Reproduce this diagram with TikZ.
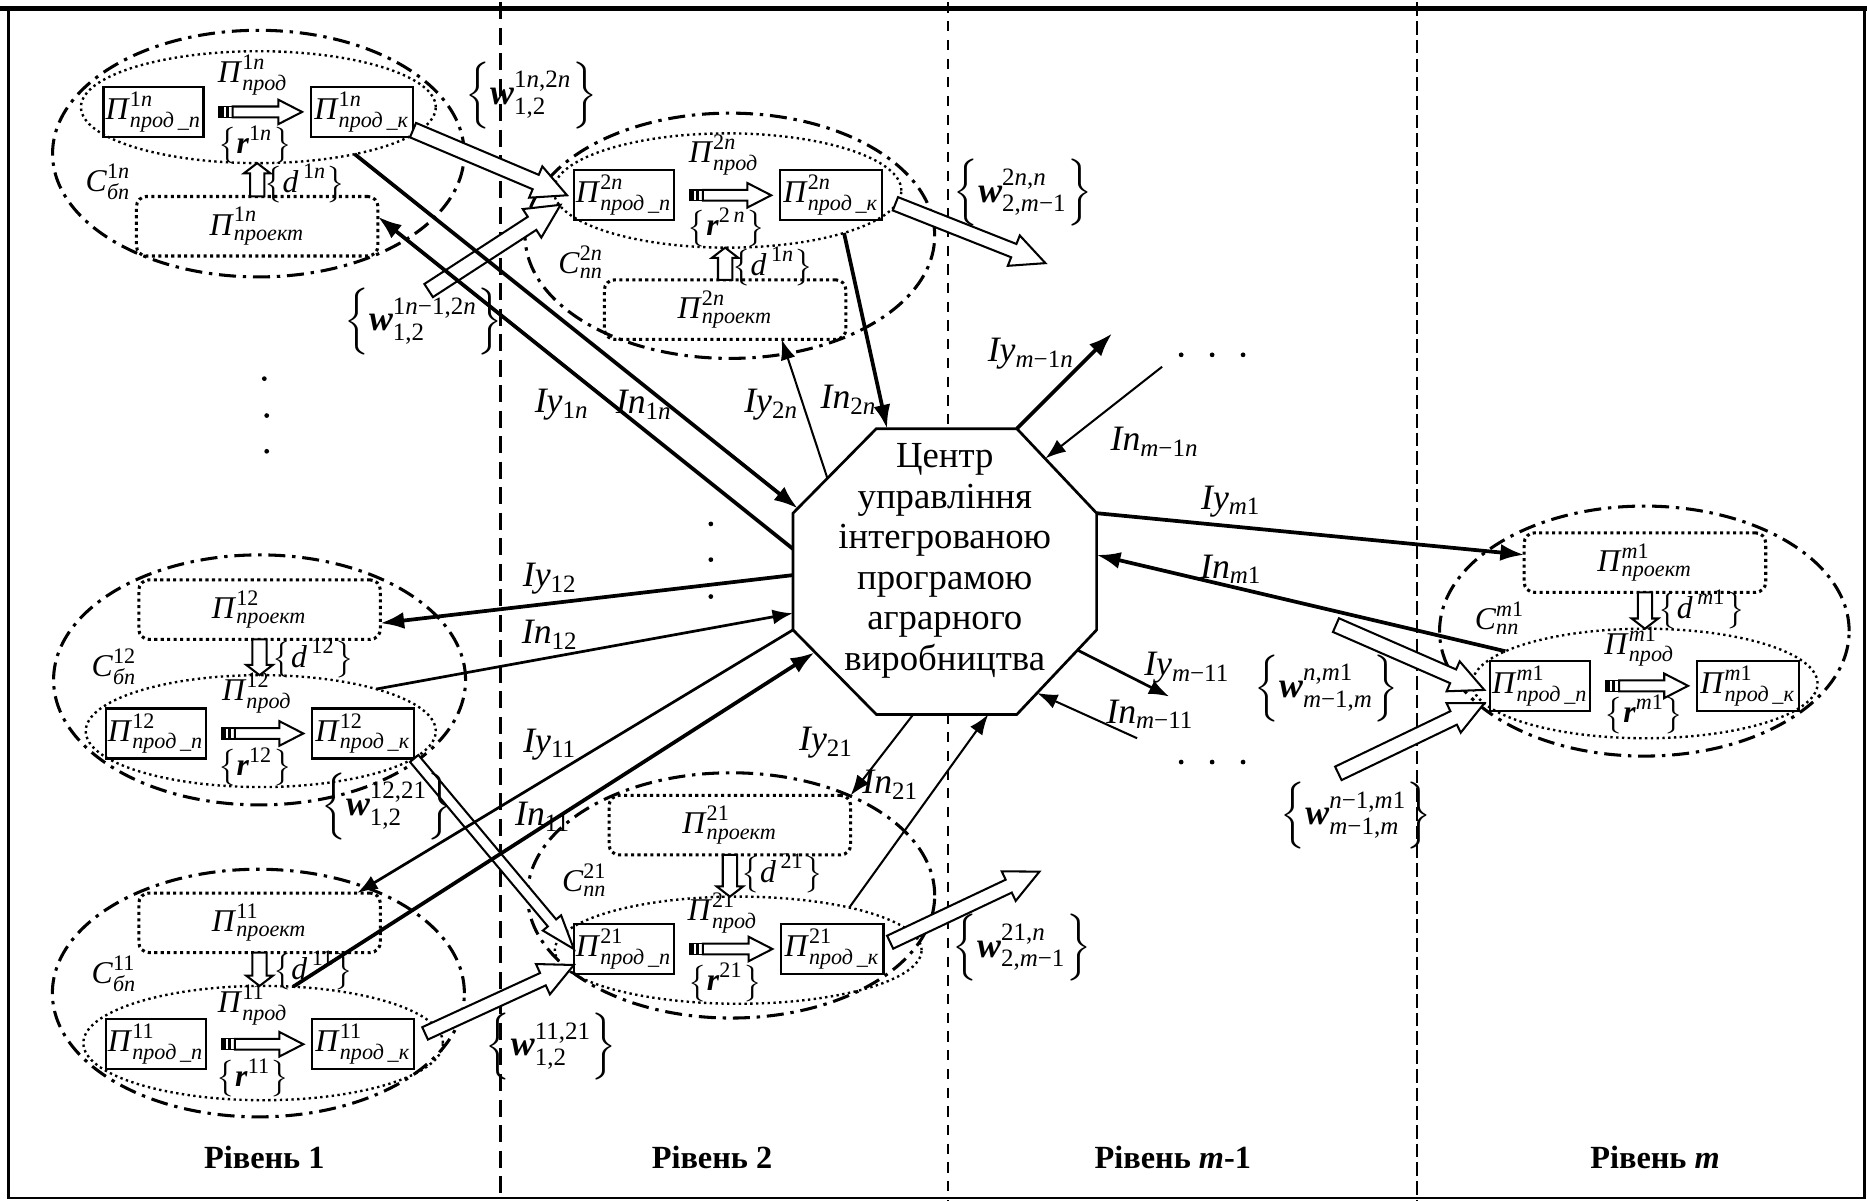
\documentclass[tikz,border=0pt]{standalone}
\usepackage{amsmath}
\usepackage{fontspec}
\setmainfont{Liberation Serif}
\usetikzlibrary{calc,arrows.meta,shapes.geometric}
\newcommand{\fsz}{\fontsize{10.5}{11.8}\selectfont}
\newcommand{\gsz}{\fontsize{9.3}{10.5}\selectfont}
\newcommand{\PV}[2]{\textit{П}$^{\text{#1}}_{\textit{#2}}$}
\newcommand{\CV}[2]{\textit{C}$^{\text{#1}}_{\textit{#2}}$}
\newcommand{\LBL}[2]{\textit{#1}$_{\text{#2}}$}
\newcommand{\BRw}[2]{$\Bigl\{\textbf{\textit{w}}^{\text{#1}}_{\text{#2}}\Bigr\}$}
\newcommand{\BRr}[1]{$\bigl\{\textbf{\textit{r}}^{\text{#1}}\bigr\}$}
\newcommand{\BRd}[1]{$\bigl\{\textit{d}^{\,\text{#1}}\bigr\}$}
\newcommand{\HArrow}[5]{%
  \path (#1) coordinate (hS) (#2) coordinate (hE);
  \path ($(hE)!#5!(hS)$) coordinate (hN);
  \draw[harrow] ($(hS)!#3!90:(hE)$) -- ($(hN)!#3!-90:(hS)$) -- ($(hN)!#4!-90:(hS)$) -- (hE) -- ($(hN)!#4!90:(hS)$) -- ($(hN)!#3!90:(hS)$) -- ($(hS)!#3!-90:(hE)$) -- cycle;
}
\newcommand{\PArrow}[2]{%
  \path ([xshift=4.5pt]#1.east) coordinate (pA) ([xshift=-2.6pt]#2.west) coordinate (pB);
  \HArrow{[xshift=4pt]pA}{pB}{1.6pt}{3.6pt}{7pt}
  \draw[line width=0.4pt] ([yshift=-1.6pt]pA) rectangle ([xshift=4pt,yshift=1.6pt]pA);
  \fill ([yshift=-1.6pt]pA) rectangle ([xshift=1.4pt,yshift=1.6pt]pA);
  \fill ([xshift=2pt,yshift=-1.6pt]pA) rectangle ([xshift=2.8pt,yshift=1.6pt]pA);
}
\begin{document}
\begin{tikzpicture}[x=0.35pt,y=-0.35pt,
  every node/.style={inner sep=0pt, outer sep=0pt, font=\fsz},
  gtxt/.style={font=\gsz},
  pbox/.style={draw, line width=0.7pt, minimum height=14.7pt, inner sep=0.6pt, font=\gsz},
  proj/.style={draw, densely dotted, line width=0.9pt, rounded corners=3pt, minimum width=71pt, minimum height=17.5pt, font=\gsz},
  iell/.style={draw, ellipse, densely dotted, line width=0.7pt},
  oell/.style={draw, ellipse, line width=0.9pt, dash pattern=on 5pt off 2pt on 1pt off 2pt},
  thk/.style={line width=1.1pt, -{Latex[length=7pt,width=5pt]}},
  thn/.style={line width=0.6pt, -{Latex[length=6pt,width=4.4pt]}},
  harrow/.style={fill=white, draw, line width=0.6pt, line join=miter},
  lev/.style={font=\fontsize{9.5}{11}\selectfont\bfseries},
]
\useasboundingbox (0,0) rectangle (1568,1008);
% level separators
\draw[line width=0.9pt, dash pattern=on 5pt off 2.5pt] (420,2) -- (420,1008);
\draw[line width=0.5pt, dash pattern=on 3pt off 2.5pt] (796,2) -- (796,1008);
\draw[line width=0.8pt, dash pattern=on 4pt off 1.5pt] (1190,2) -- (1190,1008);
% frame
\draw[line width=0.7pt] (7,7) -- (7,1006) -- (1566,1006) -- (1566,7);
\draw[line width=1.6pt] (0,7) -- (1568,7);

% ===== group 1n =====
\node[oell, minimum width=121pt, minimum height=72.5pt] (OE1n) at (217,129) {};
\node[iell, minimum width=104.3pt, minimum height=32.9pt] (IE1n) at (217,90) {};
\node[pbox, minimum width=28pt] (n1n) at (129,94) {\PV{1\textit{n}}{прод\,\_п}};
\node[pbox, minimum width=30pt] (k1n) at (304,94) {\PV{1\textit{n}}{прод\,\_к}};
\node[gtxt] (pr1n) at (212.5,63) {\PV{1\textit{n}}{прод}};
\node[gtxt] (r1n) at (214,122) {\BRr{1\textit{n}}};
\node[gtxt] (c1n) at (91,153) {\CV{1\textit{n}}{бп}};
\node[proj] (P1n) at (216,190) {\PV{1\textit{n}}{проект}};
\node[gtxt] (d1n) at (256,154) {\BRd{1\textit{n}}};
\PArrow{n1n}{k1n}
\HArrow{P1n.north}{P1n.north |- IE1n.south}{2.1pt}{3.9pt}{3pt}

% ===== group 2n =====
\node[oell, minimum width=120.4pt, minimum height=72.1pt] (OE2n) at (613,198) {};
\node[iell, minimum width=102.2pt, minimum height=33.6pt] (IE2n) at (611,160) {};
\node[pbox, minimum width=28pt] (n2n) at (524,164) {\PV{2\textit{n}}{прод\,\_п}};
\node[pbox, minimum width=30pt] (k2n) at (698,164) {\PV{2\textit{n}}{прод\,\_к}};
\node[gtxt] (pr2n) at (608,130) {\PV{2\textit{n}}{прод}};
\node[gtxt] (r2n) at (610,191) {\BRr{2\,\textit{n}}};
\node[gtxt] (c2n) at (488,220) {\CV{2\textit{n}}{пп}};
\node[proj] (P2n) at (609,260) {\PV{2\textit{n}}{проект}};
\node[gtxt] (d2n) at (649,224) {\BRd{1\textit{n}}};
\PArrow{n2n}{k2n}
\HArrow{P2n.north}{P2n.north |- IE2n.south}{2.1pt}{3.9pt}{3pt}

% ===== group 12 =====
\node[oell, minimum width=121.1pt, minimum height=73.5pt] (OE12) at (218,571) {};
\node[proj] (P12) at (218,512) {\PV{12}{проект}};
\node[gtxt] (d12) at (263,553) {\BRd{12}};
\node[gtxt] (c12) at (96,560) {\CV{12}{бп}};
\node[iell, minimum width=102.9pt, minimum height=32.9pt] (IE12) at (219,614) {};
\node[gtxt] (pr12) at (216,582) {\PV{12}{прод}};
\node[pbox, minimum width=28pt] (n12) at (131,616) {\PV{12}{прод\,\_п}};
\node[pbox, minimum width=30pt] (k12) at (305,616) {\PV{12}{прод\,\_к}};
\node[gtxt] (r12) at (214,644) {\BRr{12}};
\PArrow{n12}{k12}
\HArrow{P12.south}{P12.south |- IE12.north}{2.1pt}{3.9pt}{3pt}

% ===== group 11 =====
\node[oell, minimum width=121.1pt, minimum height=72.8pt] (OE11) at (217,834) {};
\node[proj] (P11) at (218,775) {\PV{11}{проект}};
\node[gtxt] (d11) at (263,815) {\BRd{11}};
\node[gtxt] (c11) at (96,818) {\CV{11}{бп}};
\node[iell, minimum width=105.7pt, minimum height=33.6pt] (IE11) at (221,876) {};
\node[gtxt] (pr11) at (212.5,844) {\PV{11}{прод}};
\node[pbox, minimum width=28pt] (n11) at (131,877) {\PV{11}{прод\,\_п}};
\node[pbox, minimum width=30pt] (k11) at (305,877) {\PV{11}{прод\,\_к}};
\node[gtxt] (r11) at (212.5,905) {\BRr{11}};
\PArrow{n11}{k11}
\HArrow{P11.south}{P11.south |- IE11.north}{2.1pt}{3.9pt}{3pt}

% ===== group 21 =====
\node[oell, minimum width=119.7pt, minimum height=72.1pt] (OE21) at (614,752) {};
\node[proj] (P21) at (613,693) {\PV{21}{проект}};
\node[gtxt] (d21) at (657,733.5) {\BRd{21}};
\node[gtxt] (c21) at (491,739) {\CV{21}{пп}};
\node[iell, minimum width=107.8pt, minimum height=31.5pt] (IE21) at (620,798) {};
\node[gtxt] (pr21) at (607,767) {\PV{21}{прод}};
\node[pbox, minimum width=28pt] (n21) at (524,797) {\PV{21}{прод\,\_п}};
\node[pbox, minimum width=30pt] (k21) at (699,797) {\PV{21}{прод\,\_к}};
\node[gtxt] (r21) at (609,825) {\BRr{21}};
\PArrow{n21}{k21}
\HArrow{P21.south}{P21.south |- IE21.north}{2.1pt}{3.9pt}{3pt}

% ===== group m1 =====
\node[oell, minimum width=120.4pt, minimum height=73.5pt] (OEm1) at (1381,530) {};
\node[proj] (Pm1) at (1381.5,472.5) {\PV{\textit{m}1}{проект}};
\node[gtxt] (dm1) at (1429,512) {\BRd{\textit{m}1}};
\node[gtxt] (cm1) at (1259.7,519) {\CV{\textit{m}1}{пп}};
\node[iell, minimum width=101.5pt, minimum height=32.2pt] (IEm1) at (1381.5,574) {};
\node[gtxt] (prm1) at (1377,543) {\PV{\textit{m}1}{прод}};
\node[pbox, minimum width=28pt] (nm1) at (1293.5,576) {\PV{\textit{m}1}{прод\,\_п}};
\node[pbox, minimum width=30pt] (km1) at (1468,576) {\PV{\textit{m}1}{прод\,\_к}};
\node[gtxt] (rm1) at (1380.7,600) {\BRr{\textit{m}1}};
\PArrow{nm1}{km1}
\HArrow{Pm1.south}{Pm1.south |- IEm1.north}{2.1pt}{3.9pt}{3pt}

% ===== centre =====
\coordinate (o1) at (736,360); \coordinate (o2) at (854,360);
\coordinate (o3) at (921,431); \coordinate (o4) at (921,529);
\coordinate (o5) at (854,600); \coordinate (o6) at (736,600);
\coordinate (o7) at (666,529); \coordinate (o8) at (666,431);
\draw[line width=0.8pt, fill=white] (o1) -- (o2) -- (o3) -- (o4) -- (o5) -- (o6) -- (o7) -- (o8) -- cycle;
\node[align=center, font=\fontsize{10.8}{11.9}\selectfont] (cu) at (793.5,471) {Центр\\управління\\інтегрованою\\програмою\\аграрного\\виробництва};

% connector ends on the octagon and free ends
\coordinate (oA) at (666,461); \coordinate (oB) at (670,427);
\coordinate (oC) at (695,402); \coordinate (oD) at (745,360);
\coordinate (oF) at (878,385); \coordinate (oH) at (921,466);
\coordinate (oI) at (905,546); \coordinate (oJ) at (871,582);
\coordinate (oK) at (830,600); \coordinate (oL) at (767,600);
\coordinate (oM) at (684,548); \coordinate (oO) at (666,515);
\coordinate (oP) at (666,483);
\coordinate (fIym1n) at (934,280); \coordinate (fInm1n) at (976,308);
\coordinate (fIym11) at (982,585); \coordinate (fInm11) at (955,620);
\coordinate (fW1) at (360,244); \coordinate (fW2) at (878,221);
\coordinate (fW3) at (873,732); \coordinate (fW4) at (1122,525);
\coordinate (fW5) at (1124,649.5);

% ===== hollow flow arrows =====
\HArrow{[yshift=2pt]k1n.south east}{[xshift=-2pt]n2n.west}{2.3pt}{5pt}{10pt}
\HArrow{fW1}{[xshift=-3.9pt,yshift=-2.8pt]n2n.west}{2.3pt}{5pt}{10pt}
\HArrow{[xshift=3.9pt,yshift=-2.5pt]k2n.east}{fW2}{2.1pt}{4.8pt}{10pt}
\HArrow{k12.south east}{n21.west}{1.6pt}{3.5pt}{10pt}
\HArrow{[xshift=3.2pt,yshift=3.2pt]k11.east}{[yshift=-4.7pt]n21.west}{2pt}{4.9pt}{10pt}
\HArrow{[xshift=2pt,yshift=2pt]k21.east}{fW3}{2.1pt}{4.8pt}{10pt}
\HArrow{fW4}{[xshift=-1.7pt,yshift=-1.2pt]nm1.west}{2.2pt}{4.8pt}{10pt}
\HArrow{fW5}{[xshift=-1.7pt,yshift=-5.1pt]nm1.west}{2.2pt}{4.8pt}{10pt}

% ===== information connectors =====
\draw[thk] (oA) -- ([yshift=2.8pt]P1n.east);
\draw[thk] (IE1n.-26) -- (oB);
\draw[thn] (oC) -- ([xshift=16.6pt]P2n.south);
\draw[thk] (IE2n.-20.6) -- (oD);
\draw[thk] (o2) -- (fIym1n);
\draw[thn] (fInm1n) -- (oF);
\draw[thk] (o3) -- ([yshift=2.3pt]Pm1.west);
\draw[thk] (IEm1.167.8) -- (oH);
\draw[thn, line width=0.8pt] (oI) -- (fIym11);
\draw[thn] (fInm11) -- (oJ);
\draw[thn] (oL) -- (P21.north east);
\draw[thn] (IE21.21) -- (oK);
\draw[thn, line width=0.8pt] (o7) -- ([xshift=-6.8pt]P11.north east);
\draw[thk] (IE11.62.2) -- (oM);
\draw[thk] (oP) -- ([yshift=-4pt]P12.east);
\draw[thn, line width=0.8pt] (IE12.20.9) -- (oO);

% ===== connector labels =====
\node (lIy1n) at (472,340) {\LBL{Iу}{1\textit{n}}};
\node (lIn1n) at (541,340) {\LBL{Iп}{1\textit{n}}};
\node (lIy2n) at (648,340) {\LBL{Iу}{2\textit{n}}};
\node (lIn2n) at (713,336) {\LBL{Iп}{2\textit{n}}};
\node (lIym1n) at (866,297) {\LBL{Iу}{\textit{m}−1\textit{n}}};
\node (lInm1n) at (970,371) {\LBL{Iп}{\textit{m}−1\textit{n}}};
\node (lIym1) at (1034,421) {\LBL{Iу}{\textit{m}1}};
\node (lInm1) at (1034,478) {\LBL{Iп}{\textit{m}1}};
\node (lIym11) at (997,561) {\LBL{Iу}{\textit{m}−11}};
\node (lInm11) at (966,600) {\LBL{Iп}{\textit{m}−11}};
\node (lIy21) at (694,624) {\LBL{Iу}{21}};
\node (lIn21) at (748,659) {\LBL{Iп}{21}};
\node (lIy11) at (462,625) {\LBL{Iу}{11}};
\node (lIn11) at (456,686) {\LBL{Iп}{11}};
\node (lIy12) at (462,486) {\LBL{Iу}{12}};
\node (lIn12) at (462,533) {\LBL{Iп}{12}};

% ===== flow labels =====
\node (w1) at (446,80) {\BRw{1\textit{n},2\textit{n}}{1,2}};
\node (w2) at (355.5,270) {\BRw{1\textit{n}−1,2\textit{n}}{1,2}};
\node (w3) at (859,162) {\BRw{2\textit{n},\textit{n}}{2,\textit{m}−1}};
\node (w4) at (325,677) {\BRw{12,21}{1,2}};
\node (w5) at (463,879) {\BRw{11,21}{1,2}};
\node (w6) at (858,796) {\BRw{21,\textit{n}}{2,\textit{m}−1}};
\node (w7) at (1114,578) {\BRw{\textit{n},\textit{m}1}{\textit{m}−1,\textit{m}}};
\node (w8) at (1139,685) {\BRw{\textit{n}−1,\textit{m}1}{\textit{m}−1,\textit{m}}};

% ===== dots =====
\foreach \p/\q [count=\i] in {222/318,224/349,224/379,597/440,597/470,597/501,992/298,1018/298,1044/298,992/640,1018/640,1044/640}
  \fill (\p,\q) circle (0.7pt);

% ===== level captions =====
\node[lev] (lv1) at (222,972) {Рівень 1};
\node[lev] (lv2) at (598,972) {Рівень 2};
\node[lev] (lv3) at (985,972) {Рівень \textit{m}-1};
\node[lev] (lv4) at (1390,972) {Рівень \textit{m}};
\end{tikzpicture}
\end{document}
